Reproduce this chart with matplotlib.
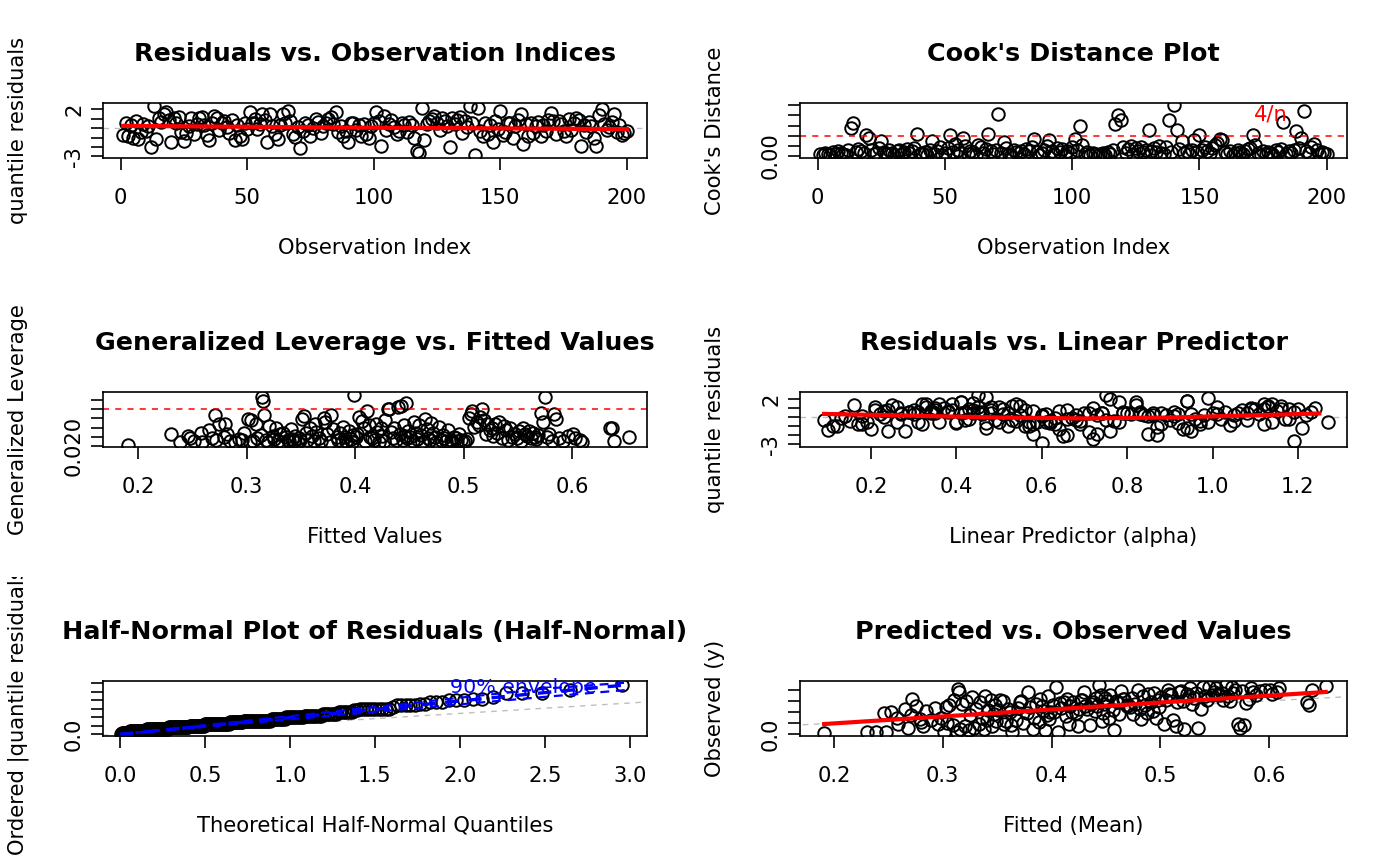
import matplotlib
matplotlib.use('Agg')
import matplotlib.pyplot as plt
from matplotlib.transforms import Bbox, TransformedBbox
import numpy as np
from statistics import NormalDist

plt.rcParams['font.family'] = 'DejaVu Sans'

# quantile residuals, by observation index 1..200
resid = [-0.7, 0.6, -0.8, 0.3, -1.0, 0.8, -1.1, -0.4, 0.4, -0.3,
         0.2, -2.0, 2.4, -1.2, 1.1, 0.7, 1.5, 1.7, 0.9, -1.5,
         1.1, 0.6, 1.2, -0.4, -1.4, -0.5, 0.2, 1.1, -0.6, 0.4,
         1.1, 1.2, 0.3, -0.7, -1.3, 0.5, 1.3, 1.1, -0.2, 0.6,
         0.8, 0.1, -0.5, 0.9, -1.3, 0.3, -0.8, -1.2, 0.5, -0.1,
         1.7, 0.6, 1.0, -0.1, 0.4, 1.5, 0.9, -1.5, 1.5, 0.2,
         -0.6, -1.2, 0.3, 1.5, 0.5, 1.8, 0.8, -0.6, -0.9, 0.1,
         -2.1, -0.3, 0.6, 0.3, -0.8, 0.0, 1.0, 0.7, -0.5, 0.2,
         0.5, 1.0, 1.2, 0.4, 1.7, -0.4, 0.2, -0.8, -0.3, -1.5,
         0.6, 0.6, -0.2, 0.3, -0.8, 0.4, -0.6, -1.0, 0.2, 0.5,
         1.7, 0.8, -1.9, 1.3, -0.2, 0.4, 0.9, 0.1, -0.6, -0.3,
         0.6, 0.3, -0.4, 0.7, 0.3, -1.0, -2.4, -2.6, 2.2, -1.3,
         0.4, 0.8, 1.0, 1.3, 0.6, -0.2, 1.1, 0.8, 0.2, -2.0,
         1.1, 0.4, 0.9, 1.2, -0.5, 0.8, 0.1, 2.4, 0.6, -2.9,
         2.1, -0.3, -0.8, 0.5, -0.6, 0.3, -1.5, 0.8, -0.1, 1.8,
         -0.7, -0.4, 0.6, 0.6, -1.0, 0.2, 0.9, 1.5, -1.7, 0.4,
         -0.8, 0.6, -0.5, 0.2, 0.7, -0.8, 0.3, -0.3, 0.9, 1.6,
         0.8, -0.6, 0.8, 0.4, -0.3, -0.8, 1.0, -0.2, 0.5, 1.1,
         0.9, -1.9, 0.3, -0.4, 0.7, 0.2, -1.0, -1.9, 1.4, 2.0,
         0.4, -0.2, 0.1, 0.7, 1.5, -0.4, 0.3, -0.7, -0.5, -0.3]

cook = [0.002, 0.001, 0.003, 0.002, 0.001, 0.004, 0.002, 0.005, 0.003, 0.002,
        0.001, 0.006, 0.028, 0.033, 0.004, 0.007, 0.005, 0.003, 0.021, 0.018,
        0.006, 0.002, 0.003, 0.008, 0.015, 0.004, 0.002, 0.006, 0.003, 0.001,
        0.005, 0.006, 0.002, 0.004, 0.007, 0.003, 0.005, 0.008, 0.022, 0.002,
        0.003, 0.004, 0.001, 0.006, 0.015, 0.002, 0.005, 0.009, 0.001, 0.003,
        0.008, 0.021, 0.004, 0.012, 0.006, 0.003, 0.018, 0.010, 0.002, 0.005,
        0.004, 0.001, 0.011, 0.009, 0.003, 0.007, 0.022, 0.005, 0.002, 0.006,
        0.041, 0.003, 0.014, 0.008, 0.002, 0.001, 0.006, 0.004, 0.003, 0.005,
        0.002, 0.007, 0.005, 0.009, 0.017, 0.004, 0.001, 0.003, 0.006, 0.010,
        0.016, 0.005, 0.002, 0.008, 0.004, 0.007, 0.001, 0.005, 0.003, 0.009,
        0.017, 0.006, 0.030, 0.011, 0.002, 0.004, 0.001, 0.003, 0.002, 0.001,
        0.002, 0.003, 0.001, 0.004, 0.002, 0.006, 0.032, 0.040, 0.036, 0.009,
        0.003, 0.007, 0.010, 0.002, 0.008, 0.005, 0.009, 0.004, 0.006, 0.026,
        0.005, 0.008, 0.004, 0.010, 0.003, 0.002, 0.009, 0.036, 0.004, 0.050,
        0.026, 0.007, 0.015, 0.003, 0.005, 0.002, 0.006, 0.016, 0.004, 0.021,
        0.006, 0.009, 0.005, 0.003, 0.008, 0.011, 0.013, 0.017, 0.016, 0.004,
        0.002, 0.005, 0.001, 0.003, 0.006, 0.004, 0.002, 0.005, 0.007, 0.008,
        0.021, 0.011, 0.003, 0.001, 0.005, 0.002, 0.004, 0.003, 0.001, 0.006,
        0.004, 0.007, 0.034, 0.002, 0.005, 0.003, 0.006, 0.025, 0.008, 0.018,
        0.044, 0.005, 0.003, 0.009, 0.012, 0.006, 0.002, 0.004, 0.003, 0.002]

# linear predictor (alpha), same order as resid
lp = [0.62, 0.31, 0.18, 0.95, 0.12, 0.44, 0.87, 1.05, 0.52, 0.09,
      0.73, 0.66, 0.45, 1.21, 0.26, 0.58, 0.36, 0.41, 1.12, 0.24,
      0.48, 0.83, 1.16, 0.69, 0.10, 0.99, 0.55, 0.21, 0.78, 1.08,
      0.33, 1.13, 0.61, 0.92, 0.20, 0.74, 0.16, 0.50, 1.02, 0.29,
      0.39, 0.85, 0.57, 1.18, 0.64, 0.30, 0.97, 0.47, 0.71, 0.13,
      0.82, 1.23, 0.35, 0.67, 0.44, 0.54, 1.10, 0.76, 0.39, 0.89,
      0.26, 0.94, 0.46, 1.14, 0.80, 0.94, 0.35, 0.59, 1.04, 0.18,
      0.65, 0.42, 1.19, 0.51, 0.88, 0.23, 0.72, 1.15, 0.31, 0.60,
      1.00, 0.37, 0.53, 0.86, 0.41, 0.15, 0.68, 1.12, 0.49, 0.28,
      0.79, 0.45, 0.96, 0.22, 0.63, 1.06, 0.40, 0.57, 0.84, 0.34,
      0.78, 0.48, 0.58, 0.25, 1.17, 0.70, 0.43, 0.91, 0.19, 0.75,
      0.46, 1.01, 0.62, 0.34, 0.83, 0.52, 0.72, 1.19, 0.47, 0.93,
      0.27, 0.56, 1.09, 0.82, 0.38, 0.66, 1.13, 0.30, 0.98, 0.87,
      0.45, 0.74, 1.20, 0.55, 0.36, 1.07, 0.14, 0.75, 0.42, 0.60,
      0.99, 0.68, 0.32, 0.88, 0.50, 1.11, 0.95, 0.21, 0.63, 0.94,
      0.40, 0.77, 1.03, 0.29, 0.56, 0.86, 1.16, 0.33, 0.71, 0.48,
      0.17, 0.91, 0.61, 1.22, 0.38, 0.69, 0.81, 0.53, 1.09, 0.44,
      0.24, 1.14, 0.66, 0.35, 0.90, 0.58, 1.24, 0.43, 0.79, 1.01,
      0.51, 0.73, 0.27, 0.97, 0.64, 1.05, 0.11, 0.85, 0.32, 0.76,
      0.41, 1.18, 0.60, 0.23, 1.12, 0.54, 0.92, 0.47, 1.27, 1.08]

# fitted mean, generalized leverage and observed y (aligned)
fitted = [0.191, 0.230, 0.239, 0.246, 0.248,
          0.252, 0.258, 0.259, 0.265, 0.268, 0.271, 0.272, 0.275, 0.279, 0.280,
          0.282, 0.285, 0.289, 0.293, 0.296, 0.298,
          0.301, 0.303, 0.304, 0.306, 0.309, 0.310, 0.313, 0.314, 0.315, 0.316,
          0.318, 0.320, 0.321, 0.324, 0.325, 0.327, 0.329, 0.331, 0.333, 0.334,
          0.336, 0.338, 0.339, 0.341, 0.342, 0.344, 0.345, 0.347, 0.348, 0.349,
          0.351, 0.353, 0.355, 0.356, 0.358, 0.360, 0.362, 0.363, 0.364, 0.367,
          0.369, 0.371, 0.372, 0.374, 0.377, 0.378, 0.380, 0.383, 0.384, 0.386,
          0.388, 0.389, 0.391, 0.392, 0.394, 0.396, 0.397, 0.398, 0.399, 0.401,
          0.402, 0.404, 0.406, 0.408, 0.409, 0.411, 0.413, 0.414, 0.416, 0.417,
          0.419, 0.420, 0.422, 0.424, 0.425, 0.427, 0.428, 0.430, 0.431, 0.433,
          0.435, 0.436, 0.438, 0.440, 0.441, 0.442, 0.444, 0.445, 0.446, 0.447,
          0.448, 0.449,
          0.451, 0.453, 0.454, 0.456, 0.457, 0.459, 0.461, 0.462, 0.464, 0.466,
          0.467, 0.469, 0.470, 0.472, 0.474, 0.475, 0.477, 0.479, 0.481, 0.482,
          0.484, 0.486, 0.488, 0.489, 0.491, 0.493, 0.494, 0.496, 0.498, 0.499,
          0.501, 0.503, 0.505, 0.507, 0.508, 0.510, 0.512, 0.514, 0.515, 0.517,
          0.519, 0.521, 0.522, 0.524, 0.526, 0.527, 0.529, 0.531, 0.533, 0.535,
          0.537, 0.539, 0.541, 0.543, 0.545, 0.547, 0.549,
          0.551, 0.553, 0.555, 0.557, 0.558, 0.560, 0.562, 0.564, 0.566, 0.567,
          0.569, 0.571, 0.573, 0.575, 0.577, 0.579, 0.581, 0.583, 0.585, 0.588,
          0.592, 0.596,
          0.601, 0.603, 0.607, 0.609, 0.635, 0.637, 0.639, 0.652]

leverage = [0.0205, 0.0265, 0.0219, 0.0252, 0.0240,
            0.0228, 0.0272, 0.0221, 0.0285, 0.0243, 0.0368, 0.0230, 0.0322, 0.0250, 0.0318,
            0.0262, 0.0225, 0.0221, 0.0238, 0.0232, 0.0268,
            0.0345, 0.0222, 0.0342, 0.0226, 0.0322, 0.0240, 0.0260, 0.0468, 0.0445, 0.0368,
            0.0230, 0.0222, 0.0310, 0.0255, 0.0238, 0.0300, 0.0228, 0.0265, 0.0223, 0.0272,
            0.0248, 0.0232, 0.0224, 0.0290, 0.0236, 0.0228, 0.0252, 0.0221, 0.0244, 0.0230,
            0.0345, 0.0362, 0.0270, 0.0232, 0.0300, 0.0255, 0.0225, 0.0318, 0.0278, 0.0240,
            0.0226, 0.0352, 0.0330, 0.0262, 0.0221, 0.0370, 0.0290, 0.0246, 0.0234, 0.0268,
            0.0223, 0.0305, 0.0250, 0.0228, 0.0282, 0.0237, 0.0222, 0.0258, 0.0480, 0.0246,
            0.0265, 0.0360, 0.0338, 0.0300, 0.0228, 0.0392, 0.0315, 0.0250, 0.0240, 0.0232,
            0.0320, 0.0275, 0.0222, 0.0298, 0.0255, 0.0226, 0.0340, 0.0399, 0.0402, 0.0276,
            0.0243, 0.0300, 0.0234, 0.0410, 0.0262, 0.0420, 0.0229, 0.0312, 0.0254, 0.0436,
            0.0241, 0.0283,
            0.0250, 0.0225, 0.0330, 0.0268, 0.0236, 0.0312, 0.0260, 0.0221, 0.0345, 0.0290,
            0.0243, 0.0229, 0.0325, 0.0271, 0.0248, 0.0222, 0.0305, 0.0232, 0.0258, 0.0240,
            0.0226, 0.0285, 0.0234, 0.0223, 0.0250, 0.0244, 0.0228, 0.0264, 0.0232, 0.0223,
            0.0228, 0.0238, 0.0350, 0.0372, 0.0392, 0.0302, 0.0330, 0.0312, 0.0360, 0.0400,
            0.0340, 0.0262, 0.0318, 0.0286, 0.0298, 0.0252, 0.0322, 0.0272, 0.0330, 0.0244,
            0.0310, 0.0286, 0.0230, 0.0300, 0.0250, 0.0264, 0.0242,
            0.0282, 0.0226, 0.0300, 0.0262, 0.0254, 0.0282, 0.0240, 0.0268, 0.0250, 0.0235,
            0.0260, 0.0382, 0.0330, 0.0468, 0.0250, 0.0262, 0.0228, 0.0376, 0.0346, 0.0240,
            0.0224, 0.0254,
            0.0262, 0.0244, 0.0230, 0.0222, 0.0300, 0.0296, 0.0226, 0.0250]

observed = [0.03, 0.04, 0.04, 0.38, 0.05,
            0.40, 0.29, 0.18, 0.45, 0.11, 0.35, 0.64, 0.50, 0.28, 0.22,
            0.14, 0.42, 0.25, 0.47, 0.18, 0.30,
            0.04, 0.48, 0.20, 0.53, 0.16, 0.62, 0.04, 0.81, 0.76, 0.10,
            0.55, 0.15, 0.60, 0.08, 0.35, 0.66, 0.12, 0.45, 0.19, 0.58,
            0.30, 0.09, 0.68, 0.26, 0.43, 0.62, 0.14, 0.37, 0.52, 0.24,
            0.43, 0.62, 0.60, 0.18, 0.23, 0.45, 0.40, 0.16, 0.04, 0.26,
            0.47, 0.57, 0.60, 0.20, 0.38, 0.76, 0.48, 0.10, 0.30, 0.55,
            0.22, 0.64, 0.50, 0.42, 0.08, 0.35, 0.68, 0.28, 0.40, 0.53,
            0.40, 0.85, 0.04, 0.56, 0.47, 0.58, 0.32, 0.64, 0.19, 0.50,
            0.40, 0.58, 0.38, 0.14, 0.46, 0.62, 0.62, 0.76, 0.50, 0.45,
            0.16, 0.55, 0.57, 0.42, 0.65, 0.50, 0.88, 0.70, 0.24, 0.39,
            0.54, 0.65,
            0.60, 0.30, 0.70, 0.44, 0.07, 0.60, 0.58, 0.36, 0.78, 0.64,
            0.63, 0.50, 0.52, 0.48, 0.65, 0.37, 0.55, 0.80, 0.46, 0.28,
            0.68, 0.52, 0.39, 0.72, 0.58, 0.42, 0.74, 0.30, 0.62, 0.48,
            0.66, 0.18, 0.62, 0.80, 0.72, 0.70, 0.25, 0.15, 0.58, 0.76,
            0.78, 0.60, 0.10, 0.72, 0.68, 0.82, 0.55, 0.65, 0.74, 0.12,
            0.46, 0.85, 0.68, 0.62, 0.85, 0.70, 0.75,
            0.82, 0.72, 0.70, 0.74, 0.62, 0.88, 0.68, 0.60, 0.85, 0.74,
            0.80, 0.18, 0.12, 0.78, 0.16, 0.56, 0.64, 0.82, 0.76, 0.70,
            0.78, 0.80,
            0.80, 0.72, 0.75, 0.82, 0.58, 0.52, 0.79, 0.86]

# smoothers
smooth_idx_x = [1, 50, 100, 150, 200]
smooth_idx_y = [0.25, 0.15, 0.05, -0.02, -0.1]
smooth_lp_x = [0.09, 0.3, 0.5, 0.7, 0.9, 1.1, 1.25]
smooth_lp_y = [0.35, 0.15, -0.05, -0.15, -0.05, 0.2, 0.4]

# half-normal envelope (read at a few quantiles)
env_x = [0.0, 0.5, 1.0, 1.5, 2.0, 2.5, 3.0]
env_lo = [0.0, 0.44, 0.88, 1.32, 1.76, 2.2, 2.62]
env_med = [0.0, 0.49, 0.98, 1.47, 1.96, 2.45, 2.92]
env_hi = [0.0, 0.53, 1.06, 1.6, 2.15, 2.68, 3.05]
hn_ref_x = [-0.1, 3.1]
hn_ref_y = [-0.06, 1.9]

n = len(resid)
p = 4
assert len(cook) == n and len(lp) == n
assert len(fitted) == n and len(leverage) == n and len(observed) == n

fs = 15.2
fig = plt.figure(figsize=(14, 8.66), dpi=100)
W, H = 1400, 866
col_left = [103, 800]
col_w = [544, 547]
row_top = [103, 392, 681]
ax_h = 55


def make_ax(r, c):
    l = col_left[c] / W
    b = 1 - (row_top[r] + ax_h) / H
    ax = fig.add_axes([l, b, col_w[c] / W, ax_h / H])
    for s in ax.spines.values():
        s.set_linewidth(1.2)
    ax.tick_params(direction='out', length=8.6, width=1.2, labelsize=fs)
    ax.tick_params(axis='x', pad=13)
    ax.tick_params(axis='y', pad=5)
    return ax


def dress(ax, r, c, title, xlabel, ylabel, yticks, ylabs):
    ax.set_title(title, fontsize=fs * 1.2, fontweight='bold', pad=30)
    ax.set_xlabel(xlabel, fontsize=fs)
    ax.xaxis.set_label_coords(0.5, -90 / ax_h)
    ax.xaxis.label.set_va('center')
    ax.set_ylabel(ylabel, fontsize=fs)
    ax.yaxis.set_label_coords(-85 / col_w[c], 0.5)
    ax.yaxis.label.set_va('center')
    # R clips margin text to the panel's own figure region
    region = Bbox([[c * 0.5, 1 - (r + 1) / 3], [(c + 1) * 0.5, 1 - r / 3]])
    ax.yaxis.label.set_clip_box(TransformedBbox(region, fig.transFigure))
    ax.yaxis.label.set_clip_on(True)
    ax.set_yticks(yticks)
    ax.set_yticklabels(ylabs, rotation=90, va='center')


circ = dict(marker='o', mfc='none', mec='black', ms=9, mew=1.4, ls='none')
idx = np.arange(1, n + 1)

# 1 residuals vs index
ax = make_ax(0, 0)
ax.axhline(0, color='#BEBEBE', lw=1, ls=(0, (4, 4)))
ax.plot(idx, resid, **circ)
ax.plot(smooth_idx_x, smooth_idx_y, color='red', lw=3)
ax.set_xlim(-6.96, 207.96)
ax.set_ylim(-3.17, 2.68)
ax.set_xticks([0, 50, 100, 150, 200])
dress(ax, 0, 0, 'Residuals vs. Observation Indices', 'Observation Index',
      'quantile residuals', [-3, -2, -1, 0, 1, 2], ['-3', '', '', '', '', '2'])

# 2 Cook's distance
ax = make_ax(0, 1)
ax.plot(idx, cook, **circ)
ax.axhline(4 / n, color='red', lw=1.1, ls=(0, (4, 4)))
ax.text(178, 0.041, '4/n', color='red', fontsize=fs, ha='center', va='center')
ax.set_xlim(-6.96, 207.96)
ax.set_ylim(-0.002, 0.0523)
ax.set_xticks([0, 50, 100, 150, 200])
dress(ax, 0, 1, "Cook's Distance Plot", 'Observation Index', "Cook's Distance",
      [0, 0.01, 0.02, 0.03, 0.04, 0.05], ['0.00', '', '', '', '', ''])

# 3 leverage vs fitted
ax = make_ax(1, 0)
ax.plot(fitted, leverage, **circ)
ax.axhline(2 * p / n, color='red', lw=1.1, ls=(0, (4, 4)))
ax.set_xlim(0.1677, 0.669)
ax.set_ylim(0.0193, 0.0495)
ax.set_xticks([0.2, 0.3, 0.4, 0.5, 0.6])
ax.set_xticklabels(['0.2', '0.3', '0.4', '0.5', '0.6'])
dress(ax, 1, 0, 'Generalized Leverage vs. Fitted Values', 'Fitted Values',
      'Generalized Leverage', [0.020, 0.025, 0.030, 0.035, 0.040, 0.045],
      ['0.020', '', '', '', '', ''])

# 4 residuals vs linear predictor
ax = make_ax(1, 1)
ax.axhline(0, color='#BEBEBE', lw=1, ls=(0, (4, 4)))
ax.plot(lp, resid, **circ)
ax.plot(smooth_lp_x, smooth_lp_y, color='red', lw=3)
ax.set_xlim(0.0337, 1.315)
ax.set_ylim(-3.32, 2.78)
ax.set_xticks([0.2, 0.4, 0.6, 0.8, 1.0, 1.2])
ax.set_xticklabels(['0.2', '0.4', '0.6', '0.8', '1.0', '1.2'])
dress(ax, 1, 1, 'Residuals vs. Linear Predictor', 'Linear Predictor (alpha)',
      'quantile residuals', [-3, -2, -1, 0, 1, 2], ['-3', '', '', '', '', '2'])

# 5 half-normal plot
ax = make_ax(2, 0)
nd = NormalDist()
hq = [nd.inv_cdf((n + i - 1 / 8) / (2 * n + 1 / 2)) for i in range(1, n + 1)]
ax.plot(hn_ref_x, hn_ref_y, color='#BEBEBE', lw=1, ls=(0, (4, 4)))
ax.plot(hq, np.sort(np.abs(resid)), **circ)
for e in (env_lo, env_hi):
    ax.plot(env_x, e, color='blue', lw=1.6, ls=(0, (4, 3)))
ax.plot(env_x, env_med, color='blue', lw=2.4, ls=(0, (4, 3)))
ax.text(2.37, 2.77, '90% envelope', color='blue', fontsize=fs * 0.97,
        ha='center', va='center')
ax.set_xlim(-0.1, 3.1)
ax.set_ylim(-0.1, 3.13)
ax.set_xticks([0, 0.5, 1.0, 1.5, 2.0, 2.5, 3.0])
ax.set_xticklabels(['0.0', '0.5', '1.0', '1.5', '2.0', '2.5', '3.0'])
dress(ax, 2, 0, 'Half-Normal Plot of Residuals (Half-Normal)',
      'Theoretical Half-Normal Quantiles', 'Ordered |quantile residuals|',
      [0, 0.5, 1.0, 1.5, 2.0, 2.5, 3.0], ['0.0', '', '', '', '', '', ''])

# 6 predicted vs observed
ax = make_ax(2, 1)
ax.plot([0.1, 0.7], [0.1, 0.7], color='#BEBEBE', lw=1, ls=(0, (4, 4)))
ax.plot(fitted, observed, **circ)
b1, b0 = np.polyfit(fitted, observed, 1)
fx = np.array([min(fitted), max(fitted)])
ax.plot(fx, b0 + b1 * fx, color='red', lw=3)
ax.set_xlim(0.1688, 0.6715)
ax.set_ylim(-0.03, 0.953)
ax.set_xticks([0.2, 0.3, 0.4, 0.5, 0.6])
ax.set_xticklabels(['0.2', '0.3', '0.4', '0.5', '0.6'])
dress(ax, 2, 1, 'Predicted vs. Observed Values', 'Fitted (Mean)', 'Observed (y)',
      [0, 0.2, 0.4, 0.6, 0.8], ['0.0', '', '', '', ''])

fig.savefig('out.png', dpi=100)
